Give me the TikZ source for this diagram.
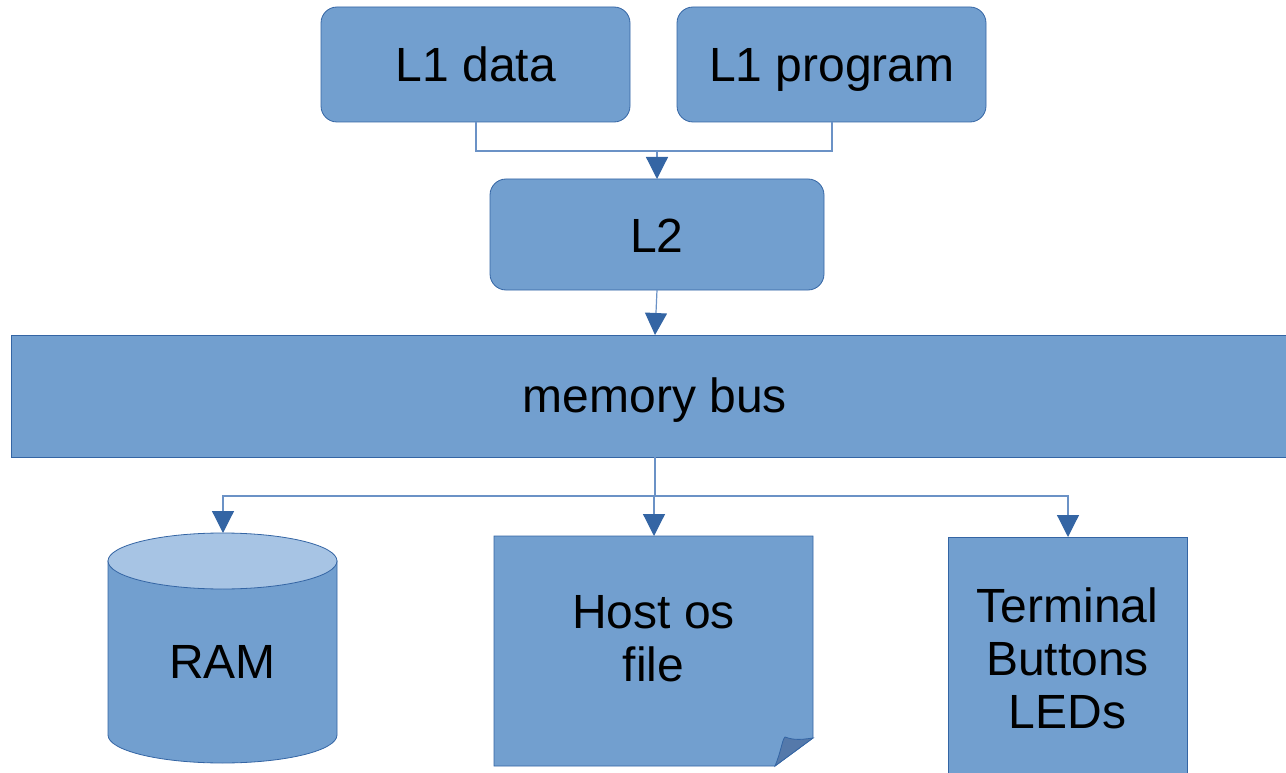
\documentclass[tikz,border=0pt]{standalone}
\usepackage{fontspec}
\setmainfont{Liberation Sans}
\usetikzlibrary{arrows.meta}
\definecolor{boxfill}{HTML}{729FCF}
\definecolor{boxline}{HTML}{3465A4}
\definecolor{topfill}{HTML}{A7C4E4}
\definecolor{foldfill}{HTML}{5579AA}
\definecolor{wireline}{HTML}{6B92C6}
\tikzset{
  rbox/.style={draw=boxline, fill=boxfill, rounded corners=16pt, line width=0.8pt, inner sep=0pt},
  sbox/.style={draw=boxline, fill=boxfill, line width=0.8pt, inner sep=0pt},
  lbl/.style={font=\fontsize{48}{53}\selectfont, align=center, text=black},
  wire/.style={draw=wireline, line width=1.2pt},
  arr/.style={wire, -{Triangle[length=22pt,width=22pt,color=boxline]}},
}
\begin{document}
\begin{tikzpicture}[x=1pt,y=-1pt]
\useasboundingbox (0,0) rectangle (1286,773);
% top boxes
\path[rbox] (321,7) rectangle (630,122);
\node[lbl, anchor=base] (l1d) at (476,82) {L1 data};
\coordinate (l1dS) at (476,122);
\path[rbox] (677,7) rectangle (986,122);
\node[lbl, anchor=base] (l1p) at (832,82) {L1 program};
\coordinate (l1pS) at (832,122);
\path[rbox] (490,179) rectangle (824,290);
\node[lbl, anchor=base] (l2) at (657,252) {L2};
\coordinate (l2N) at (657,179);
\coordinate (l2S) at (657,290);
% memory bus
\path[sbox] (11,335) rectangle (1290,457);
\node[lbl] (bus) at (655,400) {memory bus};
\coordinate (busN) at (655,335);
\coordinate (busS) at (655,457);
% RAM cylinder
\path[sbox] (108,561) -- (108,735) arc[start angle=180, end angle=0, x radius=114.5, y radius=28] -- (337,561) -- cycle;
\path[draw=boxline, fill=topfill, line width=0.8pt] (222.5,561) ellipse[x radius=114.5, y radius=28];
\node[lbl] (ram) at (222.5,662) {RAM};
\coordinate (ramN) at (223,533);
% Host os file
\path[sbox] (494,536) -- (813,536) -- (813,738) -- (775,766) -- (494,766) -- cycle;
\path[draw=boxline, fill=foldfill, line width=0.8pt] (775,766) .. controls (781,752) and (782,740) .. (785,737) .. controls (795,741) and (805,739) .. (813,738) -- cycle;
\node[lbl] (host) at (653.5,639) {Host os\\file};
\coordinate (hostN) at (654,536);
% Terminal
\path[sbox] (948,537) rectangle (1187,778);
\node[lbl] (term) at (1067.5,658) {Terminal\\Buttons\\LEDs};
\coordinate (termN) at (1068,537);
% connectors
\coordinate (j1) at (657,151);
\coordinate (j2) at (655,496);
\draw[wire] (l1dS) |- (j1) -| (l1pS);
\draw[arr] (j1) -- (l2N);
\draw[arr] (l2S) -- (busN);
\draw[wire] (busS) -- (j2);
\draw[arr] (j2) -| (ramN);
\draw[arr] (j2) -| (termN);
\draw[arr] (j2) -| (hostN);
\end{tikzpicture}
\end{document}
